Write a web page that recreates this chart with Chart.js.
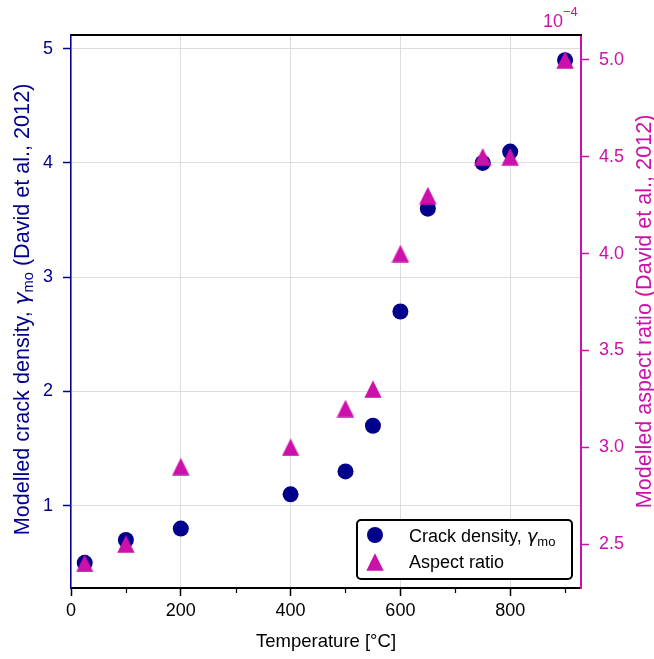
<!DOCTYPE html>
<html><head><meta charset="utf-8">
<script src="https://cdn.jsdelivr.net/npm/chart.js@4/dist/chart.umd.min.js"></script>
<style>html,body{margin:0;padding:0;background:#fff}canvas{display:block}</style>
</head><body>
<canvas id="c" width="654" height="659"></canvas>
<script>
// ---- data ----
const temperatures = [25, 100, 200, 400, 500, 550, 600, 650, 750, 800, 900];
const crackDensity = [0.5, 0.7, 0.8, 1.1, 1.3, 1.7, 2.7, 3.6, 4.0, 4.1, 4.9];
const aspectRatioE4 = [2.4, 2.5, 2.9, 3.0, 3.2, 3.3, 4.0, 4.3, 4.5, 4.5, 5.0]; // x 10^-4
const xTicks = [0, 200, 400, 600, 800];
const xMinorTicks = [100, 300, 500, 700, 900];
const leftTicks = [1, 2, 3, 4, 5];
const rightTicks = [2.5, 3.0, 3.5, 4.0, 4.5, 5.0];

const NAVY = '#00008B';
const MAG = '#CC11AA';
const FONT = '"Liberation Sans", Arial, sans-serif';
const FS = 18;
const YT = 21.6;

// matplotlib-like "^" marker (width == height)
function makeTriangle(size, color) {
  const c = document.createElement('canvas');
  c.width = size; c.height = size;
  const g = c.getContext('2d');
  g.fillStyle = color;
  g.beginPath();
  g.moveTo(size / 2, 0.3);
  g.lineTo(size - 0.3, size - 0.3);
  g.lineTo(0.3, size - 0.3);
  g.closePath();
  g.fill();
  return c;
}
const triImg = makeTriangle(18, MAG);

function drawRotatedTitle(ctx, x, y, parts, color) {
  ctx.save();
  ctx.translate(x, y);
  ctx.rotate(-Math.PI / 2);
  ctx.fillStyle = color;
  ctx.textBaseline = 'alphabetic';
  ctx.textAlign = 'left';
  let total = 0;
  parts.forEach(p => { ctx.font = p.font; total += ctx.measureText(p.t).width; });
  let cx = -total / 2;
  parts.forEach(p => {
    ctx.font = p.font;
    ctx.fillText(p.t, cx, p.dy || 0);
    cx += ctx.measureText(p.t).width;
  });
  ctx.restore();
}

const decor = {
  id: 'decor',
  afterDraw(chart) {
    const ctx = chart.ctx;
    const a = chart.chartArea;
    const xs = chart.scales.x;
    ctx.save();
    // top spine
    ctx.strokeStyle = '#000'; ctx.lineWidth = 2;
    ctx.beginPath(); ctx.moveTo(a.left, a.top); ctx.lineTo(a.right + 1, a.top); ctx.stroke();
    // minor x ticks
    ctx.lineWidth = 1.2;
    xMinorTicks.forEach(v => {
      const px = Math.round(xs.getPixelForValue(v)) + 0.5;
      ctx.beginPath(); ctx.moveTo(px, a.bottom + 1); ctx.lineTo(px, a.bottom + 5); ctx.stroke();
    });
    // x axis title
    ctx.fillStyle = '#000';
    ctx.font = `18.5px ${FONT}`;
    ctx.textAlign = 'center'; ctx.textBaseline = 'alphabetic';
    ctx.fillText('Temperature [°C]', (a.left + a.right) / 2, 647);
    // left title
    const cy = (a.top + a.bottom) / 2;
    drawRotatedTitle(ctx, 28.5, cy - 2, [
      { t: 'Modelled crack density, ', font: `${YT}px ${FONT}` },
      { t: 'γ', font: `italic ${YT}px "DejaVu Sans", ${FONT}` },
      { t: 'mo', font: `${(YT * 0.68).toFixed(1)}px ${FONT}`, dy: 4.5 },
      { t: ' (David et al., 2012)', font: `${YT}px ${FONT}` }
    ], NAVY);
    // right title
    drawRotatedTitle(ctx, 651, cy, [
      { t: 'Modelled aspect ratio (David et al., 2012)', font: `${YT}px ${FONT}` }
    ], MAG);
    // offset text 10^-4
    ctx.fillStyle = MAG;
    ctx.textAlign = 'left';
    ctx.font = `${FS}px ${FONT}`;
    ctx.fillText('10', 543, 27);
    const w10 = ctx.measureText('10').width;
    ctx.font = `${Math.round(FS * 0.72)}px ${FONT}`;
    ctx.fillText('\u22124', 543 + w10, 16);

    // legend
    const lx = 357, ly = 520, lw = 215, lh = 59, r = 4;
    ctx.beginPath();
    ctx.moveTo(lx + r, ly);
    ctx.arcTo(lx + lw, ly, lx + lw, ly + lh, r);
    ctx.arcTo(lx + lw, ly + lh, lx, ly + lh, r);
    ctx.arcTo(lx, ly + lh, lx, ly, r);
    ctx.arcTo(lx, ly, lx + lw, ly, r);
    ctx.closePath();
    ctx.fillStyle = '#fff'; ctx.fill();
    ctx.strokeStyle = '#000'; ctx.lineWidth = 2; ctx.stroke();
    // markers
    ctx.fillStyle = NAVY;
    ctx.beginPath(); ctx.arc(375, 535, 8, 0, Math.PI * 2); ctx.fill();
    ctx.drawImage(triImg, 375 - 9, 562 - 9);
    // texts
    ctx.fillStyle = '#000';
    ctx.font = `${FS}px ${FONT}`;
    const t1 = 'Crack density, ';
    ctx.fillText(t1, 409, 541.5);
    let tx = 409 + ctx.measureText(t1).width;
    ctx.font = `italic ${FS}px "DejaVu Sans", ${FONT}`;
    ctx.fillText('γ', tx, 541.5);
    tx += ctx.measureText('γ').width;
    ctx.font = `${Math.round(FS * 0.72)}px ${FONT}`;
    ctx.fillText('mo', tx, 545.5);
    ctx.font = `${FS}px ${FONT}`;
    ctx.fillText('Aspect ratio', 409, 567.5);
    ctx.restore();
  }
};

new Chart(document.getElementById('c'), {
  type: 'scatter',
  data: {
    datasets: [
      {
        label: 'Aspect ratio',
        data: temperatures.map((t, i) => ({ x: t, y: aspectRatioE4[i] })),
        yAxisID: 'y2',
        pointStyle: triImg,
        pointRadius: 9,
        backgroundColor: MAG,
        borderWidth: 0,
        order: 0
      },
      {
        label: 'Crack density',
        data: temperatures.map((t, i) => ({ x: t, y: crackDensity[i] })),
        yAxisID: 'y',
        pointStyle: 'circle',
        pointRadius: 8,
        backgroundColor: NAVY,
        borderColor: NAVY,
        borderWidth: 0,
        order: 1
      }
    ]
  },
  options: {
    responsive: false,
    animation: false,
    devicePixelRatio: 1,
    layout: { padding: { top: 35, left: 0, right: 0, bottom: 0 } },
    plugins: { legend: { display: false }, tooltip: { enabled: false } },
    scales: {
      x: {
        type: 'linear', position: 'bottom', min: 0, max: 929,
        afterBuildTicks: s => { s.ticks = xTicks.map(v => ({ value: v })); },
        afterFit: s => { s.height = 71; },
        grid: { color: '#dddddd', lineWidth: 1, tickColor: '#000', tickLength: 8, tickWidth: 1.5 },
        border: { color: '#000', width: 2 },
        ticks: { color: '#000', font: { family: FONT, size: FS }, padding: 4, maxRotation: 0 }
      },
      y: {
        type: 'linear', position: 'left', min: 0.28, max: 5.12,
        afterBuildTicks: s => { s.ticks = leftTicks.map(v => ({ value: v })); },
        afterFit: s => { s.width = 71; },
        grid: { color: '#dddddd', lineWidth: 1, tickColor: NAVY, tickLength: 8, tickWidth: 1.5 },
        border: { color: NAVY, width: 1.5 },
        ticks: { color: NAVY, font: { family: FONT, size: FS }, padding: 10 }
      },
      y2: {
        type: 'linear', position: 'right', min: 2.273, max: 5.129,
        afterBuildTicks: s => { s.ticks = rightTicks.map(v => ({ value: v })); },
        afterFit: s => { s.width = 73; },
        grid: { drawOnChartArea: false, tickColor: MAG, tickLength: 8, tickWidth: 1.5 },
        border: { color: MAG, width: 2 },
        ticks: { color: MAG, font: { family: FONT, size: FS }, padding: 10, callback: v => Number(v).toFixed(1) }
      }
    }
  },
  plugins: [decor]
});
</script>
</body></html>
